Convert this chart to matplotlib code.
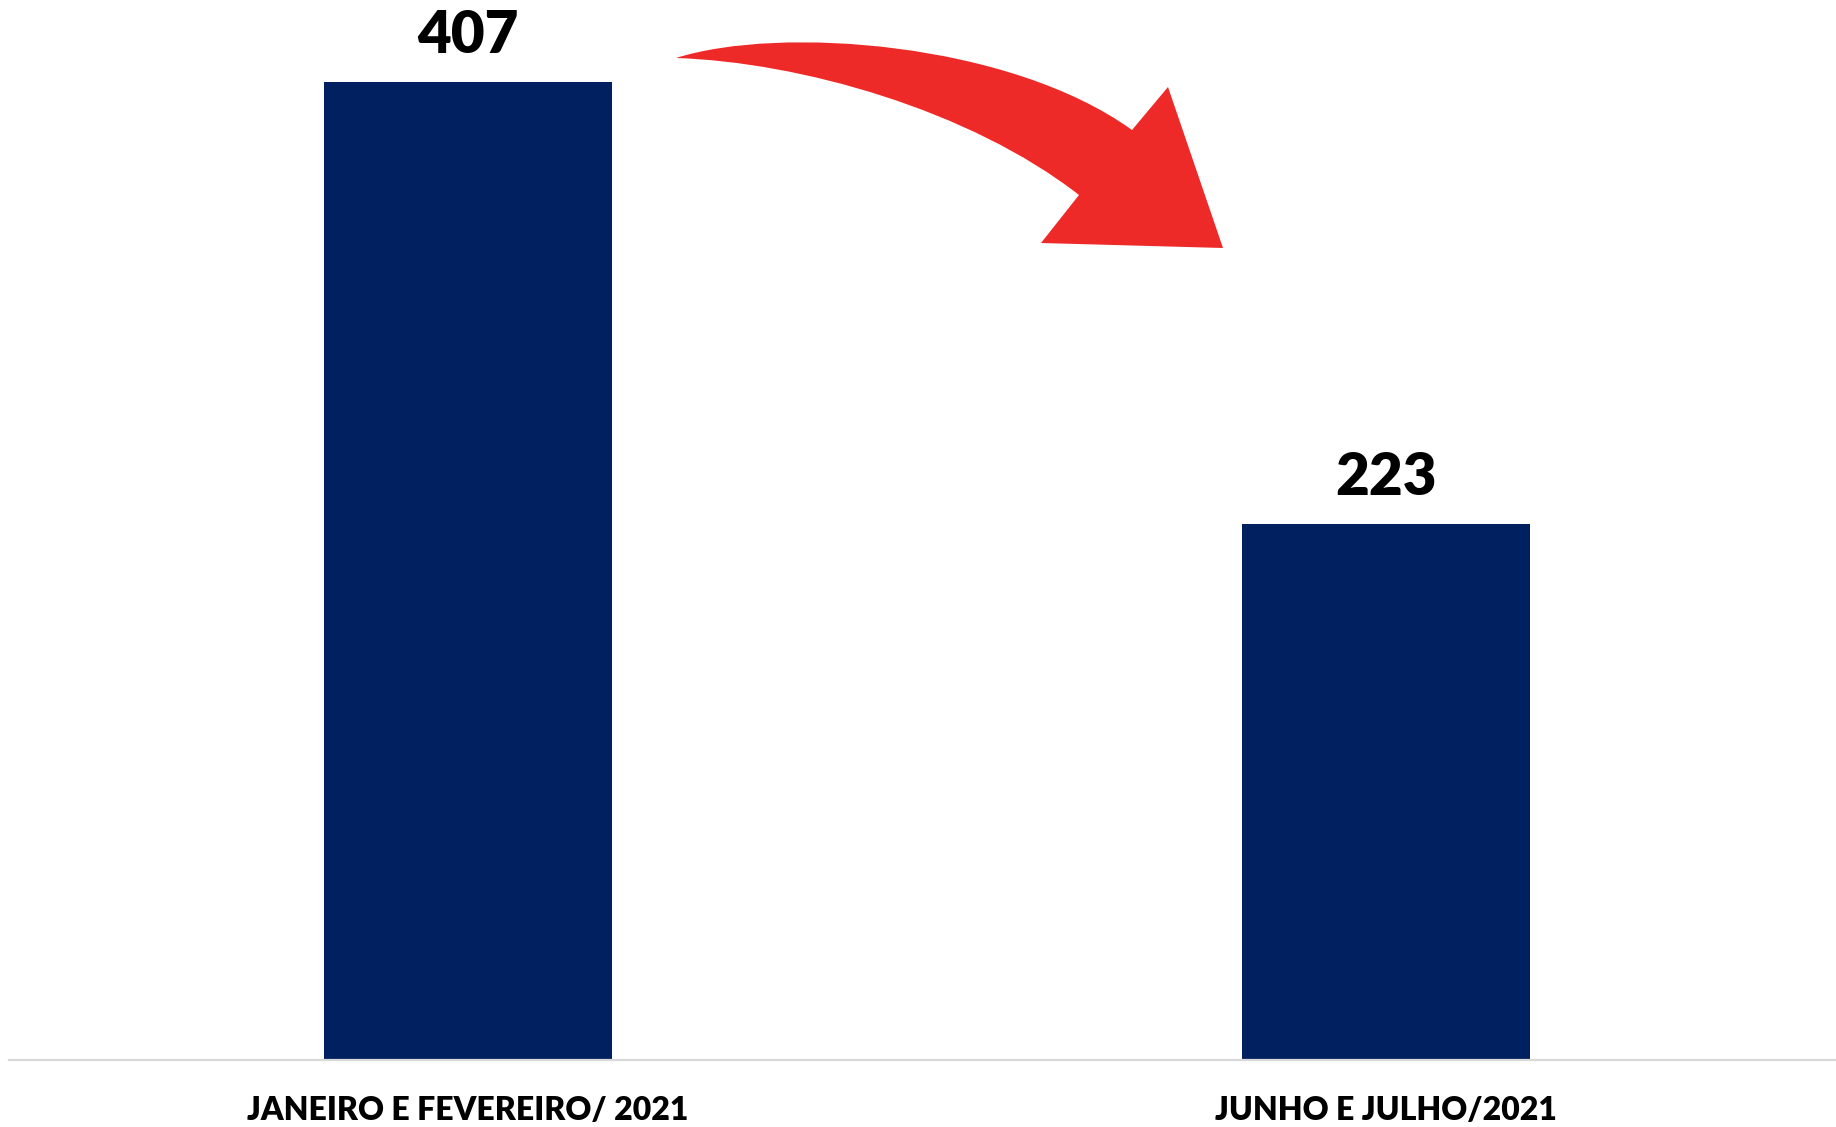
"""
Bar chart: two periods of 2021 compared, with a red curved arrow showing the drop.
"""
import matplotlib
matplotlib.use("Agg")
import matplotlib.pyplot as plt
from matplotlib.path import Path
from matplotlib.patches import PathPatch

# data
categories = ["JANEIRO E FEVEREIRO/ 2021", "JUNHO E JULHO/2021"]
values = [407, 223]

W, H = 1836, 1127
BAR = "#002060"
RED = "#EE2A29"


def px(x, y):
    # figure pixel (from top-left) -> figure fraction
    return (x / W, 1 - y / H)


def main():
    plt.rcParams["font.family"] = ["Lato", "DejaVu Sans"]
    fig = plt.figure(figsize=(W / 100, H / 100), dpi=100)
    ax = fig.add_axes([9 / W, 67 / H, 1 - 9 / W, 1060 / H])

    xs = list(range(len(values)))
    ax.bar(xs, values, width=0.314, color=BAR, zorder=2)
    ax.set_xlim(-0.5, 1.49)
    ax.set_ylim(0, 441)

    for x, v in zip(xs, values):
        ax.annotate(str(v), (x, v), xytext=(0, 21), textcoords="offset points",
                    ha="center", va="baseline", fontsize=42, fontweight="heavy",
                    color="black")

    ax.set_xticks(xs)
    ax.set_xticklabels(categories, fontsize=23, fontweight="heavy")
    ax.tick_params(axis="x", length=0, pad=26)
    ax.set_yticks([])
    for s in ["top", "right", "left"]:
        ax.spines[s].set_visible(False)
    ax.spines["bottom"].set_color("#d9d9d9")
    ax.spines["bottom"].set_linewidth(1.6)

    # curved red arrow (decoration, in figure pixels)
    verts = [px(676, 58),
             px(780, 25), px(1010, 42), px(1132, 130),
             px(1168, 87), px(1223, 248), px(1041, 243), px(1079, 195),
             px(970, 110), px(800, 62), px(676, 58),
             px(676, 58)]
    codes = [Path.MOVETO,
             Path.CURVE4, Path.CURVE4, Path.CURVE4,
             Path.LINETO, Path.LINETO, Path.LINETO, Path.LINETO,
             Path.CURVE4, Path.CURVE4, Path.CURVE4,
             Path.CLOSEPOLY]
    arrow = PathPatch(Path(verts, codes), facecolor=RED, edgecolor="none",
                      transform=fig.transFigure)
    fig.patches.append(arrow)

    fig.savefig("out.png", dpi=100)
    plt.close(fig)


if __name__ == "__main__":
    main()
